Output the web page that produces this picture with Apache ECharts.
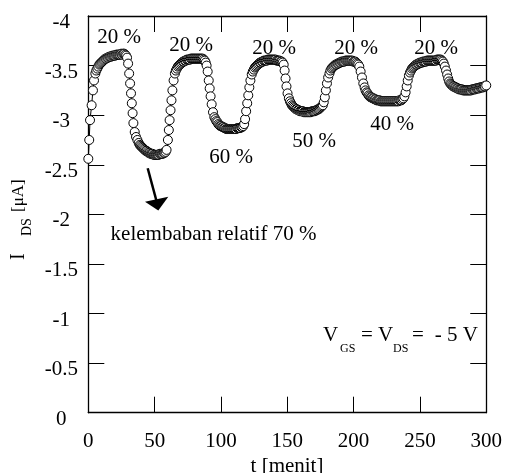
<!DOCTYPE html>
<html><head><meta charset="utf-8">
<script src="https://cdn.jsdelivr.net/npm/echarts@6/dist/echarts.min.js"></script>
<style>html,body{margin:0;padding:0;background:#fff}#c{width:505px;height:473px}</style>
</head><body><div id="c"></div>
<script>
// I_DS [uA] versus time [menit]
const idsPoints = [
  [0,-2.56],[0.7,-2.75],[1.3,-2.95],[2.5,-3.10],[3.5,-3.25],[4.3,-3.35],[5.3,-3.42],[6,-3.45],[6.8,-3.47],[7.5,-3.49],[8.3,-3.51],[9,-3.52],[9.8,-3.53],[10.5,-3.54],[11.3,-3.55],[12,-3.56],[12.8,-3.57],[13.5,-3.57],[14.3,-3.58],[15,-3.58],[15.8,-3.59],[16.5,-3.59],[17.3,-3.59],[18,-3.60],[18.8,-3.60],[19.5,-3.60],[20.3,-3.60],[21,-3.61],[21.8,-3.61],[22.5,-3.61],[23.3,-3.61],[24,-3.61],[24.8,-3.62],[25.5,-3.61],[26.3,-3.62],[27,-3.62],[27.8,-3.61],[28.5,-3.60],[29.2,-3.58],
  [30,-3.52],[30.8,-3.42],[31.5,-3.32],[32.2,-3.22],[32.8,-3.12],[33.4,-3.02],[34,-2.92],[35,-2.83],[36,-2.78],[37,-2.75],[38,-2.72],[38.8,-2.70],[39.5,-2.69],[40.3,-2.68],[41,-2.67],[41.8,-2.66],[42.5,-2.65],[43.3,-2.64],[44,-2.64],[44.8,-2.63],[45.5,-2.62],[46.3,-2.62],[47,-2.61],[47.8,-2.61],[48.5,-2.61],[49.3,-2.60],[50,-2.60],[50.8,-2.60],[51.5,-2.60],[52.3,-2.60],[53,-2.60],[53.8,-2.61],[54.5,-2.61],[55.3,-2.61],[56,-2.61],[56.8,-2.62],[57.5,-2.62],[58.3,-2.63],[59,-2.65],
  [60,-2.75],[60.7,-2.85],[61.3,-2.95],[62,-3.05],[62.7,-3.15],[63.4,-3.25],[64.3,-3.35],[65.3,-3.42],[66,-3.45],[66.8,-3.47],[67.5,-3.49],[68.3,-3.50],[69,-3.51],[69.8,-3.52],[70.5,-3.53],[71.3,-3.54],[72,-3.54],[72.8,-3.55],[73.5,-3.55],[74.3,-3.56],[75,-3.56],[75.8,-3.56],[76.5,-3.56],[77.3,-3.57],[78,-3.57],[78.8,-3.57],[79.5,-3.57],[80.3,-3.57],[81,-3.57],[81.8,-3.57],[82.5,-3.57],[83.3,-3.57],[84,-3.57],[84.8,-3.57],[85.5,-3.57],[86.3,-3.57],[87,-3.56],[87.8,-3.55],[88.5,-3.53],[89.2,-3.50],
  [90,-3.44],[90.8,-3.35],[91.5,-3.27],[92.2,-3.19],[93,-3.11],[94,-3.03],[95,-2.98],[95.8,-2.96],[96.5,-2.94],[97.3,-2.93],[98,-2.91],[98.8,-2.90],[99.5,-2.89],[100.3,-2.89],[101,-2.88],[101.8,-2.88],[102.5,-2.87],[103.3,-2.87],[104,-2.86],[104.8,-2.86],[105.5,-2.86],[106.3,-2.86],[107,-2.86],[107.8,-2.86],[108.5,-2.86],[109.3,-2.86],[110,-2.86],[110.8,-2.86],[111.5,-2.86],[112.3,-2.87],[113,-2.87],[113.8,-2.87],[114.5,-2.87],[115.3,-2.88],[116,-2.88],[116.8,-2.89],[117.5,-2.91],
  [118.2,-2.96],[119,-3.04],[119.8,-3.12],[120.6,-3.20],[121.4,-3.28],[122.2,-3.35],[123.2,-3.41],[124,-3.44],[124.8,-3.46],[125.5,-3.48],[126.3,-3.49],[127,-3.50],[127.8,-3.51],[128.5,-3.52],[129.3,-3.53],[130,-3.53],[130.8,-3.54],[131.5,-3.54],[132.3,-3.55],[133,-3.55],[133.8,-3.55],[134.5,-3.55],[135.3,-3.56],[136,-3.56],[136.8,-3.56],[137.5,-3.56],[138.3,-3.56],[139,-3.56],[139.8,-3.56],[140.5,-3.56],[141.3,-3.56],[142,-3.55],[142.8,-3.55],[143.5,-3.55],[144.3,-3.55],[145,-3.54],[145.8,-3.54],[146.5,-3.53],[147.3,-3.51],
  [148,-3.45],[148.7,-3.37],[149.4,-3.29],[150.2,-3.22],[151.2,-3.17],[152,-3.14],[152.8,-3.12],[153.5,-3.10],[154.3,-3.09],[155,-3.08],[155.8,-3.07],[156.5,-3.06],[157.3,-3.06],[158,-3.05],[158.8,-3.05],[159.5,-3.04],[160.3,-3.04],[161,-3.04],[161.8,-3.04],[162.5,-3.03],[163.3,-3.03],[164,-3.03],[164.8,-3.03],[165.5,-3.03],[166.3,-3.03],[167,-3.03],[167.8,-3.03],[168.5,-3.04],[169.3,-3.04],[170,-3.04],[170.8,-3.04],[171.5,-3.05],[172.3,-3.05],[173,-3.06],[173.8,-3.06],[174.5,-3.07],[175.3,-3.08],[176,-3.09],[176.8,-3.10],[177.5,-3.13],
  [178.3,-3.18],[179.1,-3.25],[179.9,-3.32],[180.8,-3.38],[181.8,-3.42],[182.5,-3.45],[183.3,-3.47],[184,-3.48],[184.8,-3.49],[185.5,-3.50],[186.3,-3.51],[187,-3.51],[187.8,-3.52],[188.5,-3.52],[189.3,-3.53],[190,-3.53],[190.8,-3.54],[191.5,-3.54],[192.3,-3.54],[193,-3.54],[193.8,-3.55],[194.5,-3.55],[195.3,-3.55],[196,-3.55],[196.8,-3.55],[197.5,-3.55],[198.3,-3.55],[199,-3.55],[199.8,-3.54],[200.5,-3.54],[201.3,-3.54],[202,-3.53],[202.8,-3.52],[203.5,-3.51],[204.3,-3.49],
  [205.3,-3.44],[206.3,-3.38],[207.3,-3.32],[208.3,-3.28],[209,-3.25],[209.8,-3.23],[210.5,-3.22],[211.3,-3.20],[212,-3.19],[212.8,-3.18],[213.5,-3.18],[214.3,-3.17],[215,-3.17],[215.8,-3.16],[216.5,-3.16],[217.3,-3.15],[218,-3.15],[218.8,-3.15],[219.5,-3.15],[220.3,-3.14],[221,-3.14],[221.8,-3.14],[222.5,-3.14],[223.3,-3.14],[224,-3.14],[224.8,-3.14],[225.5,-3.14],[226.3,-3.14],[227,-3.14],[227.8,-3.14],[228.5,-3.14],[229.3,-3.14],[230,-3.14],[230.8,-3.14],[231.5,-3.14],[232.3,-3.14],[233,-3.14],[233.8,-3.14],[234.5,-3.15],[235.3,-3.15],[236,-3.15],[236.8,-3.16],[237.5,-3.17],[238.3,-3.19],
  [239.2,-3.23],[240,-3.29],[240.8,-3.35],[241.7,-3.40],[242.5,-3.43],[243.3,-3.45],[244,-3.47],[244.8,-3.48],[245.5,-3.49],[246.3,-3.50],[247,-3.51],[247.8,-3.51],[248.5,-3.52],[249.3,-3.52],[250,-3.53],[250.8,-3.53],[251.5,-3.53],[252.3,-3.54],[253,-3.54],[253.8,-3.54],[254.5,-3.54],[255.3,-3.55],[256,-3.55],[256.8,-3.55],[257.5,-3.55],[258.3,-3.55],[259,-3.55],[259.8,-3.55],[260.5,-3.55],[261.3,-3.55],[262,-3.55],[262.8,-3.56],[263.5,-3.56],[264.3,-3.56],[265,-3.56],[265.8,-3.56],[266.5,-3.55],[267.3,-3.54],[268,-3.52],[268.8,-3.49],
  [269.7,-3.45],[270.5,-3.41],[271.3,-3.37],[272,-3.34],[272.8,-3.32],[273.5,-3.31],[274.3,-3.30],[275,-3.29],[275.8,-3.29],[276.5,-3.28],[277.3,-3.28],[278,-3.27],[278.8,-3.27],[279.5,-3.26],[280.3,-3.26],[281,-3.26],[281.8,-3.26],[282.5,-3.25],[283.3,-3.25],[284,-3.25],[284.8,-3.25],[285.5,-3.25],[286.3,-3.25],[287,-3.25],[287.8,-3.25],[288.5,-3.25],[289.3,-3.26],[290,-3.26],[290.8,-3.26],[291.5,-3.26],[292.3,-3.27],[293,-3.27],[293.8,-3.27],[294.5,-3.27],[295.3,-3.28],[296,-3.28],[296.8,-3.28],[297.5,-3.28],[298.3,-3.29],[299,-3.29],[300,-3.30]
];
const humidityLabels = ['20 %','20 %','20 %','20 %','20 %','60 %','50 %','40 %'];
const arrowLabel = 'kelembaban relatif 70 %';
const xTickStep = 50;
const yTickStep = 0.5;

const FONT = 'Liberation Serif';
const INK = '#000';
const labelCenters = [[119,37],[191,45],[274,48],[356,48],[436,48],[231,157],[314,141],[392,124]];

const chart = echarts.init(document.getElementById('c'), null, {renderer:'canvas'});
const axisCommon = {
  axisLine:{show:true, onZero:false, lineStyle:{color:INK, width:1.3}},
  axisTick:{show:true, inside:true, length:16, lineStyle:{color:INK, width:1}},
  splitLine:{show:false}
};
const txt = (text, x, y, size, align) => ({
  type:'text', x:x, y:y, silent:true,
  style:{text:text, font:size+'px "'+FONT+'"', fill:INK, align:align||'center', verticalAlign:'middle'}
});
const graphics = humidityLabels.map((t,i)=>txt(t, labelCenters[i][0], labelCenters[i][1], 21));
graphics.push(txt(arrowLabel, 213.5, 234, 21));
graphics.push({type:'line', silent:true, shape:{x1:147.7,y1:168.3,x2:156.5,y2:201}, style:{stroke:INK, lineWidth:2.5}});
graphics.push({type:'polygon', silent:true, shape:{points:[[145,201.7],[168.3,196.7],[158.3,210.5]]}, style:{fill:INK}});
// V_GS = V_DS = - 5 V
graphics.push(txt('V', 323, 335, 21, 'left'));
graphics.push(txt('GS', 340, 349, 12, 'left'));
graphics.push(txt('= V', 361, 335, 21, 'left'));
graphics.push(txt('DS', 393, 349, 12, 'left'));
graphics.push(txt('=', 412, 335, 21, 'left'));
graphics.push(txt('- 5 V', 478, 335, 21, 'right'));
// y-axis title
graphics.push({type:'group', x:19, y:220, rotation:Math.PI/2, silent:true, children:[
  txt('I', -40, 0, 20, 'left'),
  txt('DS', -16, 8, 14, 'left'),
  txt('[\u03bcA]', 8, 0, 17, 'left')
]});
graphics.push(txt('t [menit]', 287, 466, 21));

chart.setOption({
  animation:false,
  backgroundColor:'#fff',
  grid:{left:88.3, right:18.3, top:16, bottom:60.3, containLabel:false},
  xAxis:[
    Object.assign({type:'value', min:0, max:300, interval:xTickStep, position:'bottom',
      axisLabel:{show:true, margin:18, color:INK, fontFamily:FONT, fontSize:21}}, axisCommon),
    Object.assign({type:'value', min:0, max:300, interval:xTickStep, position:'top',
      axisLabel:{show:false}}, axisCommon)
  ],
  yAxis:[
    Object.assign({type:'value', min:-4, max:0, interval:yTickStep, inverse:true, position:'left',
      axisLabel:{show:true, margin:27, align:'center', verticalAlign:'top', lineHeight:13, color:INK, fontFamily:FONT, fontSize:21}}, axisCommon),
    Object.assign({type:'value', min:-4, max:0, interval:yTickStep, inverse:true, position:'right',
      axisLabel:{show:false}}, axisCommon)
  ],
  series:[{
    type:'line', xAxisIndex:0, yAxisIndex:0, data:idsPoints,
    symbol:'circle', symbolSize:9, showSymbol:true,
    lineStyle:{color:INK, width:1},
    itemStyle:{color:'#fff', borderColor:INK, borderWidth:1},
    emphasis:{disabled:true}
  }],
  graphic:graphics
});
</script></body></html>
